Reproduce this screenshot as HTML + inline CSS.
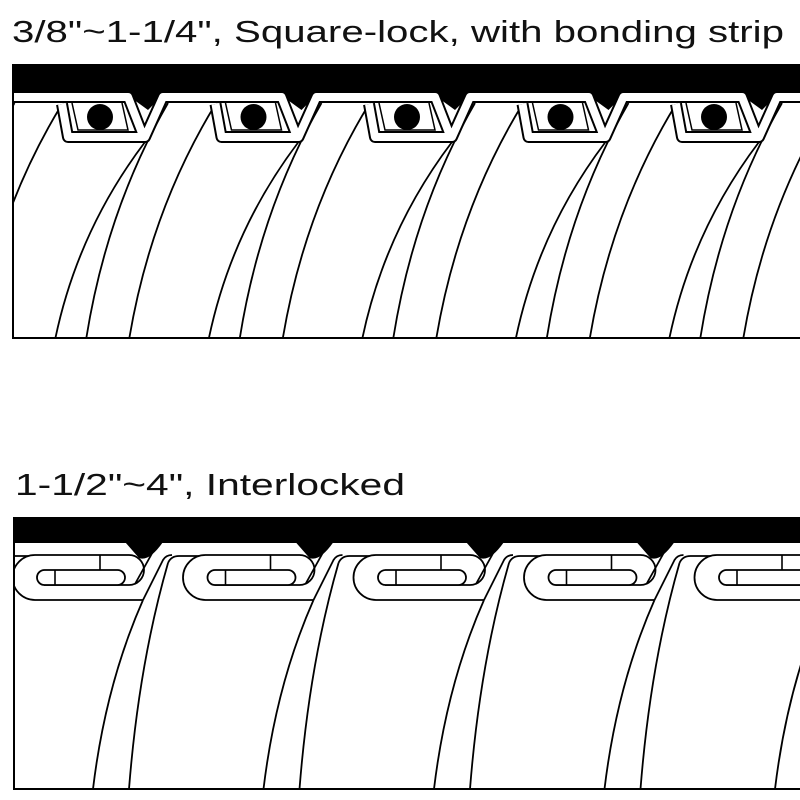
<!DOCTYPE html>
<html><head><meta charset="utf-8"><style>
html,body{margin:0;padding:0;background:#fff;width:800px;height:800px;overflow:hidden}
svg{display:block}
</style></head><body>
<svg id="s" width="800" height="800" viewBox="0 0 800 800" xmlns="http://www.w3.org/2000/svg">
<text x="12" y="42" font-family="Liberation Sans, sans-serif" font-size="31" textLength="772" lengthAdjust="spacingAndGlyphs" fill="#111">3/8"~1-1/4", Square-lock, with bonding strip</text>
<text x="15" y="495" font-family="Liberation Sans, sans-serif" font-size="31" textLength="390" lengthAdjust="spacingAndGlyphs" fill="#111">1-1/2"~4", Interlocked</text>
<g id="gtop"></g>
<g id="gbot"></g>
</svg>
<script>
(function(){
var NS="http://www.w3.org/2000/svg";
function el(p,t,a){var e=document.createElementNS(NS,t);for(var k in a)e.setAttribute(k,a[k]);p.appendChild(e);return e;}
var T=document.getElementById('gtop'), B=document.getElementById('gbot');
function curve(g,xt,yt,xb,yb){
 var h=yb-yt, w=xt-xb;
 var cx=xb+w*0.25, cy=yb-h*0.55;
 el(g,'path',{d:'M'+xb+','+yb+' Q'+cx+','+cy+' '+xt+','+yt,fill:'none',stroke:'#000','stroke-width':1.8});
}
// ---------- TOP PANEL ----------
var clipT=el(T,'clipPath',{id:'ct'});el(clipT,'rect',{x:13,y:65,width:790,height:273});
var gT=el(T,'g',{'clip-path':'url(#ct)'});
el(gT,'rect',{x:13,y:65,width:790,height:273,fill:'#fff'});
var P=153.5, cs=[];for(var i=-1;i<7;i++)cs.push(100+i*P);
cs.forEach(function(c){
 curve(gT,c+45,142,c-45,340);curve(gT,c+68,103,c-14,340);curve(gT,c+115,105,c+29,340);
});
el(gT,'rect',{x:13,y:65,width:790,height:30,fill:'#000'});
cs.forEach(function(c){el(gT,'path',{d:'M'+(c+26)+',94 L'+(c+64)+',94 L'+(c+48)+',110 Z',fill:'#000'});});
var d='';
cs.forEach(function(c){d+='M'+(c-38)+',104 L'+(c-32)+',137 L'+(c+45)+',137 L'+(c+63)+',97 L'+(c+P+28)+',97 L'+(c+P+42)+',133 ';});
el(gT,'path',{d:d,fill:'none',stroke:'#000','stroke-width':12,'stroke-linejoin':'round'});
el(gT,'path',{d:d,fill:'none',stroke:'#fff','stroke-width':8,'stroke-linejoin':'round'});
cs.forEach(function(c){
 el(gT,'path',{d:'M'+(c-28)+',103 L'+(c-22)+',130 L'+(c+28)+',130 L'+(c+22)+',103',fill:'none',stroke:'#000','stroke-width':1.5});
 el(gT,'circle',{cx:c,cy:117,r:13,fill:'#000'});
});
el(T,'rect',{x:13,y:65,width:800,height:273,fill:'none',stroke:'#000','stroke-width':2});
// ---------- BOTTOM PANEL ----------
var clipB=el(B,'clipPath',{id:'cb'});el(clipB,'rect',{x:14,y:518,width:790,height:271});
var gB=el(B,'g',{'clip-path':'url(#cb)'});
el(gB,'rect',{x:14,y:518,width:790,height:271,fill:'#fff'});
el(gB,'rect',{x:14,y:518,width:790,height:25,fill:'#000'});
var Q=170.5, hs=[];for(var j=-1;j<6;j++)hs.push(37+j*Q);
hs.forEach(function(h){
 el(gB,'path',{d:'M'+(h+88)+',542 L'+(h+126)+',542 Q'+(h+112)+',562 '+(h+102)+',558 Z',fill:'#000'});
 el(gB,'path',{d:'M'+(h+106)+',600 H'+(h-2)+' A22.5 22.5 0 0 1 '+(h-2)+',555 H'+(h+92)+' A15 15 0 0 1 '+(h+92)+',585 H'+(h+7),fill:'#fff',stroke:'#000','stroke-width':1.8});
 el(gB,'rect',{x:h,y:570,width:88,height:15,rx:7.5,fill:'#fff',stroke:'#000','stroke-width':1.8});
 el(gB,'line',{x1:h+18,y1:570,x2:h+18,y2:585,stroke:'#000','stroke-width':1.6});
 el(gB,'line',{x1:h+63,y1:555,x2:h+63,y2:570,stroke:'#000','stroke-width':1.6});
 el(gB,'path',{d:'M'+(h+98)+',584 L'+(h+118)+',548',fill:'none',stroke:'#000','stroke-width':1.8});
 curve(gB,h+106,600,h+56,789);
 el(gB,'path',{d:'M'+(h+106)+',600 L'+(h+126)+',560 Q'+(h+129)+',555 '+(h+135)+',555',fill:'none',stroke:'#000','stroke-width':1.8});
 curve(gB,h+131,563,h+92,789);
 el(gB,'path',{d:'M'+(h+131)+',563 Q'+(h+134)+',556 '+(h+142)+',556 H'+(h+Q-2),fill:'none',stroke:'#000','stroke-width':1.8});
});
el(B,'rect',{x:14,y:518,width:800,height:271,fill:'none',stroke:'#000','stroke-width':2});
})();
</script>
</body></html>
